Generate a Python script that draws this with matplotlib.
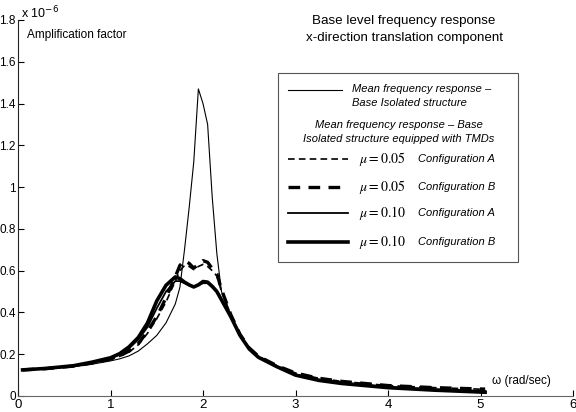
import numpy as np
import matplotlib.pyplot as plt
from matplotlib.lines import Line2D
from matplotlib.patches import Rectangle

plt.rcParams['font.family'] = ['Liberation Sans', 'DejaVu Sans']
plt.rcParams['mathtext.fontset'] = 'stix'

# frequency grid (rad/sec) and mean amplification factors (x 1e-6)
omega = [0.05, 0.3, 0.6, 0.8, 1.0, 1.1, 1.2, 1.3, 1.4, 1.5, 1.6, 1.7, 1.75, 1.8,
         1.85, 1.9, 1.95, 2.0, 2.05, 2.1, 2.15, 2.2, 2.3, 2.4, 2.5, 2.6, 2.8,
         3.0, 3.25, 3.5, 4.0, 4.5, 5.05]

base_iso = [0.125, 0.13, 0.14, 0.152, 0.168, 0.178, 0.192, 0.215, 0.25, 0.29,
            0.35, 0.44, 0.52, 0.70, 0.90, 1.12, 1.47, 1.40, 1.30, 0.95, 0.68,
            0.50, 0.39, 0.29, 0.225, 0.185, 0.14, 0.105, 0.08, 0.066, 0.045,
            0.034, 0.026]

mu05_A = [0.125, 0.131, 0.142, 0.157, 0.175, 0.19, 0.21, 0.245, 0.30, 0.37,
          0.45, 0.55, 0.60, 0.625, 0.62, 0.605, 0.62, 0.63, 0.62, 0.60, 0.575,
          0.50, 0.39, 0.295, 0.23, 0.19, 0.145, 0.11, 0.085, 0.07, 0.05,
          0.04, 0.032]

mu05_B = [0.125, 0.131, 0.143, 0.158, 0.177, 0.193, 0.215, 0.25, 0.31, 0.38,
          0.47, 0.57, 0.625, 0.648, 0.635, 0.612, 0.63, 0.648, 0.64, 0.61, 0.585,
          0.51, 0.39, 0.295, 0.23, 0.19, 0.145, 0.11, 0.085, 0.07, 0.05,
          0.04, 0.033]

mu10_A = [0.125, 0.132, 0.144, 0.16, 0.18, 0.198, 0.228, 0.27, 0.33, 0.42,
          0.50, 0.55, 0.55, 0.54, 0.53, 0.522, 0.53, 0.54, 0.54, 0.52, 0.50,
          0.46, 0.38, 0.29, 0.225, 0.185, 0.14, 0.102, 0.078, 0.062, 0.042,
          0.03, 0.02]

mu10_B = [0.125, 0.132, 0.145, 0.162, 0.183, 0.203, 0.235, 0.28, 0.35, 0.455,
          0.53, 0.57, 0.562, 0.545, 0.532, 0.522, 0.532, 0.548, 0.545, 0.525,
          0.50, 0.46, 0.38, 0.29, 0.225, 0.185, 0.14, 0.1, 0.075, 0.06, 0.04,
          0.028, 0.018]

W, H = 576, 412
fig = plt.figure(figsize=(W / 100, H / 100), dpi=100)
ax = fig.add_axes([18 / W, 1 - 396 / H, (573 - 18) / W, (396 - 20) / H])

w = np.array(omega)
ax.plot(w, np.array(base_iso) * 1e-6, color='black', lw=0.8)
ax.plot(w, np.array(mu05_A) * 1e-6, color='black', lw=1.2, ls=(0, (4, 2.5)))
ax.plot(w, np.array(mu05_B) * 1e-6, color='black', lw=2.4, ls=(0, (3.5, 2.5)))
ax.plot(w, np.array(mu10_A) * 1e-6, color='black', lw=1.3)
ax.plot(w, np.array(mu10_B) * 1e-6, color='black', lw=2.6)

ax.set_xlim(0, 6)
ax.set_ylim(0, 1.8e-6)
ax.set_xticks(range(7))
ax.set_xticklabels([str(i) for i in range(7)])
yt = [0, 0.2, 0.4, 0.6, 0.8, 1.0, 1.2, 1.4, 1.6, 1.8]
ax.set_yticks([v * 1e-6 for v in yt])
ax.set_yticklabels(['0', '0.2', '0.4', '0.6', '0.8', '1', '1.2', '1.4', '1.6', '1.8'])
ax.tick_params(direction='in', length=4, width=0.8, labelsize=9.5, pad=2)
ax.tick_params(axis='y', labelsize=8.5, pad=1.5)
ax.spines['top'].set_visible(False)
ax.spines['right'].set_visible(False)
ax.spines['bottom'].set_color('#666666')
ax.spines['left'].set_color('#222222')

def fx(px):
    return px / W

def fy(py):
    return 1 - py / H

fig.text(fx(21), fy(13), r'x 10$^{-6}$', fontsize=9, va='center', ha='left',
         math_fontfamily='dejavusans')
fig.text(fx(27), fy(35), 'Amplification factor', fontsize=8.5, va='center')
fig.text(fx(404), fy(21), 'Base level frequency response', fontsize=9.6, ha='center', va='center')
fig.text(fx(404), fy(38), 'x-direction translation component', fontsize=9.6, ha='center', va='center')
fig.text(fx(492), fy(381), r'ω (rad/sec)', fontsize=8.5, ha='left', va='center')

# legend box
fig.add_artist(Rectangle((fx(278), fy(262)), (518 - 278) / W, (262 - 73) / H,
                         transform=fig.transFigure, fill=False, ec='#555555', lw=0.8))

fig.add_artist(Line2D([fx(288), fx(342)], [fy(90)] * 2, transform=fig.transFigure,
                      color='black', lw=0.8))
fig.text(fx(352), fy(89), 'Mean frequency response –', style='italic', fontsize=8, va='center')
fig.text(fx(352), fy(103), 'Base Isolated structure', style='italic', fontsize=8, va='center')
fig.text(fx(399), fy(125), 'Mean frequency response – Base', style='italic', fontsize=8,
         va='center', ha='center')
fig.text(fx(399), fy(139), 'Isolated structure equipped with TMDs', style='italic', fontsize=8,
         va='center', ha='center')

rows = [(159, 1.2, (0, (4, 2.5)), '0.05', 'A'),
        (187, 2.4, (0, (3.5, 2.5)), '0.05', 'B'),
        (213, 1.3, '-', '0.10', 'A'),
        (242, 2.6, '-', '0.10', 'B')]
for py, lw, ls, mu, cfg in rows:
    fig.add_artist(Line2D([fx(288), fx(348)], [fy(py)] * 2, transform=fig.transFigure,
                          color='black', lw=lw, ls=ls))
    fig.text(fx(359), fy(py), r'$\mu = %s$' % mu, fontsize=10, va='center')
    fig.text(fx(418), fy(py), 'Configuration ' + cfg, style='italic', fontsize=8, va='center')

fig.savefig('out.png', dpi=100)
